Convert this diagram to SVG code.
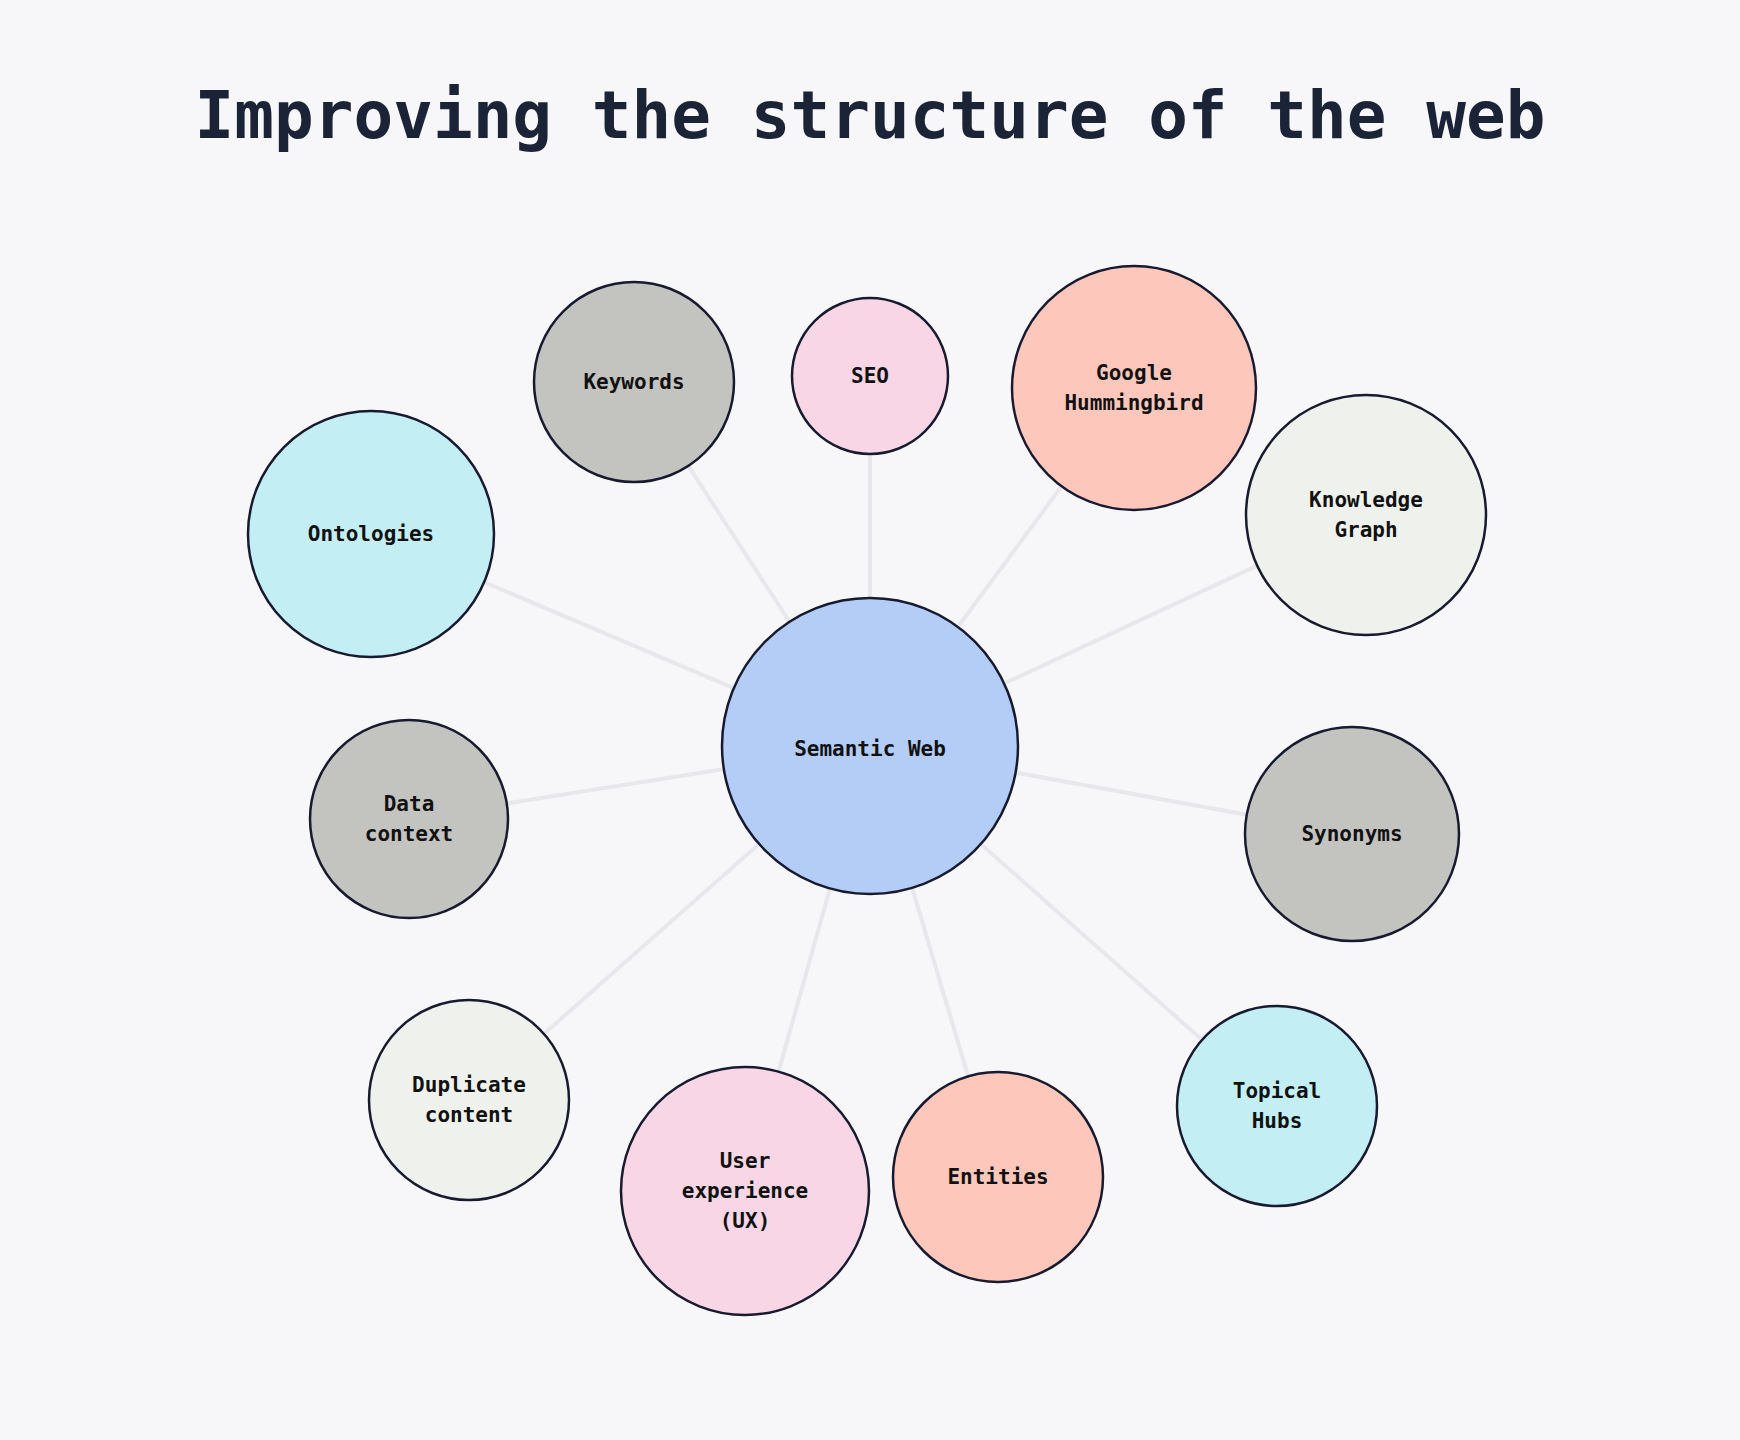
<svg xmlns="http://www.w3.org/2000/svg" width="1740" height="1440" viewBox="0 0 1740 1440">
<style>
.n{stroke:#181b30;stroke-width:2.5}
.t{font-family:"DejaVu Sans Mono","Liberation Mono",monospace;font-weight:bold;font-size:21px;fill:#111;text-anchor:middle}
.e{stroke:#e8e8ec;stroke-width:4}
.g{fill:#c3c3c0}.p{fill:#f8d6e5}.o{fill:#fdc8bb}.w{fill:#eff1ec}.c{fill:#c2eef4}
</style>
<rect width="1740" height="1440" fill="#f7f7f9"/>
<text x="870" y="138" font-family="DejaVu Sans Mono,Liberation Mono,monospace" font-weight="bold" font-size="66" fill="#1b2336" text-anchor="middle">Improving the structure of the web</text>
<g id="connectors">
<line class="e" x1="870" y1="746" x2="634" y2="382"/><line class="e" x1="870" y1="746" x2="870" y2="376"/>
<line class="e" x1="870" y1="746" x2="1134" y2="388"/><line class="e" x1="870" y1="746" x2="1366" y2="515"/>
<line class="e" x1="870" y1="746" x2="371" y2="534"/><line class="e" x1="870" y1="746" x2="409" y2="819"/>
<line class="e" x1="870" y1="746" x2="1352" y2="834"/><line class="e" x1="870" y1="746" x2="469" y2="1100"/>
<line class="e" x1="870" y1="746" x2="745" y2="1191"/><line class="e" x1="870" y1="746" x2="998" y2="1177"/>
<line class="e" x1="870" y1="746" x2="1277" y2="1106"/>
</g>
<g id="keywords"><circle class="n g" cx="634" cy="382" r="100"/><text class="t" x="634" y="389">Keywords</text></g>
<g id="seo"><circle class="n p" cx="870" cy="376" r="78"/><text class="t" x="870" y="383">SEO</text></g>
<g id="google"><circle class="n o" cx="1134" cy="388" r="122"/><text class="t" x="1134" y="380">Google</text><text class="t" x="1134" y="410">Hummingbird</text></g>
<g id="knowledge"><circle class="n w" cx="1366" cy="515" r="120"/><text class="t" x="1366" y="507">Knowledge</text><text class="t" x="1366" y="537">Graph</text></g>
<g id="ontologies"><circle class="n c" cx="371" cy="534" r="123"/><text class="t" x="371" y="541">Ontologies</text></g>
<g id="semantic"><circle class="n" fill="#b3cdf7" cx="870" cy="746" r="148"/><text class="t" x="870" y="756" font-size="30">Semantic Web</text></g>
<g id="datacontext"><circle class="n g" cx="409" cy="819" r="99"/><text class="t" x="409" y="811">Data</text><text class="t" x="409" y="841">context</text></g>
<g id="synonyms"><circle class="n g" cx="1352" cy="834" r="107"/><text class="t" x="1352" y="841">Synonyms</text></g>
<g id="duplicate"><circle class="n w" cx="469" cy="1100" r="100"/><text class="t" x="469" y="1092">Duplicate</text><text class="t" x="469" y="1122">content</text></g>
<g id="ux"><circle class="n p" cx="745" cy="1191" r="124"/><text class="t" x="745" y="1168">User</text><text class="t" x="745" y="1198">experience</text><text class="t" x="745" y="1228">(UX)</text></g>
<g id="entities"><circle class="n o" cx="998" cy="1177" r="105"/><text class="t" x="998" y="1184">Entities</text></g>
<g id="topical"><circle class="n c" cx="1277" cy="1106" r="100"/><text class="t" x="1277" y="1098">Topical</text><text class="t" x="1277" y="1128">Hubs</text></g>
</svg>
